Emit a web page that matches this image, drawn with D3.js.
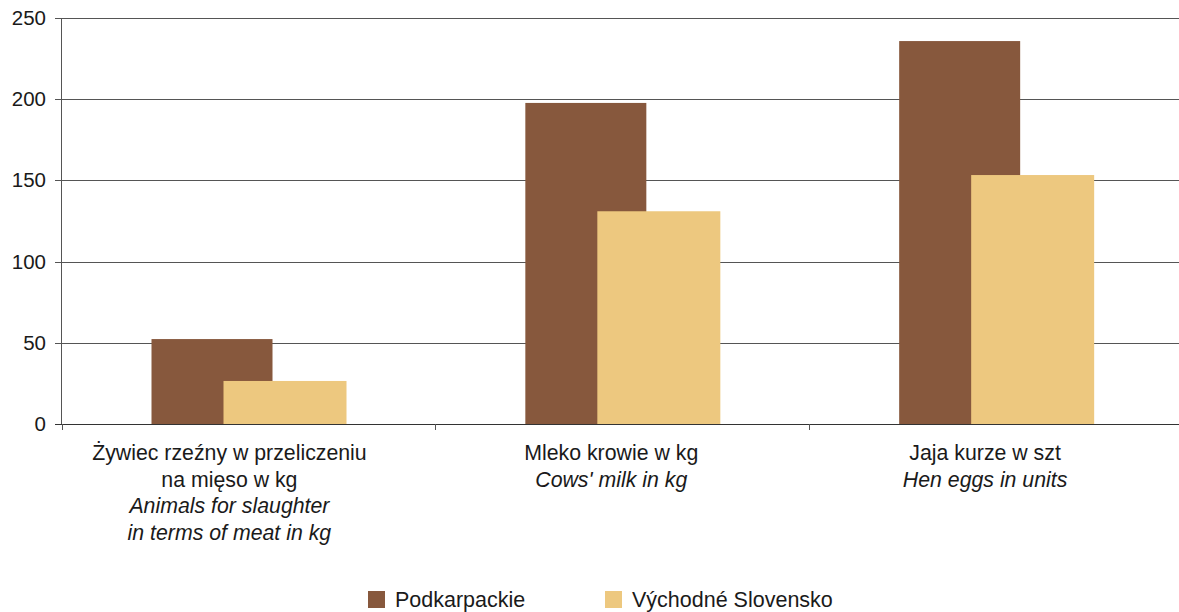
<!DOCTYPE html>
<html>
<head>
<meta charset="utf-8">
<script src="https://cdn.jsdelivr.net/npm/d3@7"></script>
<style>
  body { margin: 0; background: #fff; }
  text { font-family: "Liberation Sans", Arial, sans-serif; fill: #1a1a1a; }
</style>
</head>
<body>
<svg id="chart" width="1179" height="612"></svg>
<script>
// categories (polish + english lines)
var categories = ['zywiec', 'mleko', 'jaja'];
var labelsPl = [['Żywiec rzeźny w przeliczeniu', 'na mięso w kg'], ['Mleko krowie w kg'], ['Jaja kurze w szt']];
var labelsEn = [['Animals for slaughter', 'in terms of meat in kg'], ["Cows' milk in kg"], ['Hen eggs in units']];
var seriesNames = ['Podkarpackie', 'Východné Slovensko'];
var podkarpackie = [52.3, 197.7, 235.8];
var slovensko = [26.5, 131, 153.3];
var yTicks = [0, 50, 100, 150, 200, 250];
var colors = ['#87583d', '#edc87f'];

var svg = d3.select('#chart');
var x = d3.scaleBand().domain(categories).range([61.5, 1183]);
var y = d3.scaleLinear().domain([0, 250]).range([424, 18]);

// grid lines
svg.append('g').selectAll('line').data(yTicks).enter().append('line')
  .attr('x1', 55).attr('x2', 1179)
  .attr('y1', function(d){ return Math.round(y(d)) + 0.5; })
  .attr('y2', function(d){ return Math.round(y(d)) + 0.5; })
  .attr('stroke', function(d){ return d == 0 ? '#333' : '#555'; })
  .attr('stroke-width', 1);

svg.append('g').selectAll('text').data(yTicks).enter().append('text')
  .attr('x', 46).attr('y', function(d){ return y(d) + 7; })
  .attr('text-anchor', 'end').attr('font-size', 20.5)
  .text(function(d){ return d; });

// y axis line
svg.append('line').attr('x1', 61.5).attr('x2', 61.5).attr('y1', 18).attr('y2', 424)
  .attr('stroke', '#555');

// x ticks at category boundaries
svg.append('g').selectAll('line').data(categories).enter().append('line')
  .attr('x1', function(d){ return Math.round(x(d)) + 0.5; })
  .attr('x2', function(d){ return Math.round(x(d)) + 0.5; })
  .attr('y1', 424).attr('y2', 430).attr('stroke', '#555');

// bars: brown first, yellow overlapping on top
var barW = 121;
var offs = [90, 162];
[podkarpackie, slovensko].forEach(function(vals, s){
  svg.append('g').selectAll('rect').data(vals).enter().append('rect')
    .attr('x', function(d, i){ return x(categories[i]) + offs[s]; })
    .attr('y', function(d){ return y(d); })
    .attr('width', s == 0 ? barW : barW + 2)
    .attr('height', function(d){ return y(0) - y(d); })
    .attr('fill', colors[s]);
});

// category labels
var lab = svg.append('g');
categories.forEach(function(c, i){
  var cx = x(c) + x.bandwidth()/2 - (i == 0 ? 19 : 11);
  var lines = labelsPl[i].map(function(t){ return {t: t, it: false}; })
    .concat(labelsEn[i].map(function(t){ return {t: t, it: true}; }));
  lines.forEach(function(l, j){
    lab.append('text').attr('x', cx).attr('y', 460 + j*26.5)
      .attr('text-anchor', 'middle').attr('font-size', 21.3)
      .attr('font-style', l.it ? 'italic' : 'normal')
      .text(l.t);
  });
});

// legend
var legX = [368, 605];
var leg = svg.append('g');
seriesNames.forEach(function(n, i){
  leg.append('rect').attr('x', legX[i]).attr('y', 591).attr('width', 17).attr('height', 17)
    .attr('fill', colors[i]);
  leg.append('text').attr('x', legX[i] + 27).attr('y', 607).attr('font-size', 21.5).text(n);
});
</script>
</body>
</html>
